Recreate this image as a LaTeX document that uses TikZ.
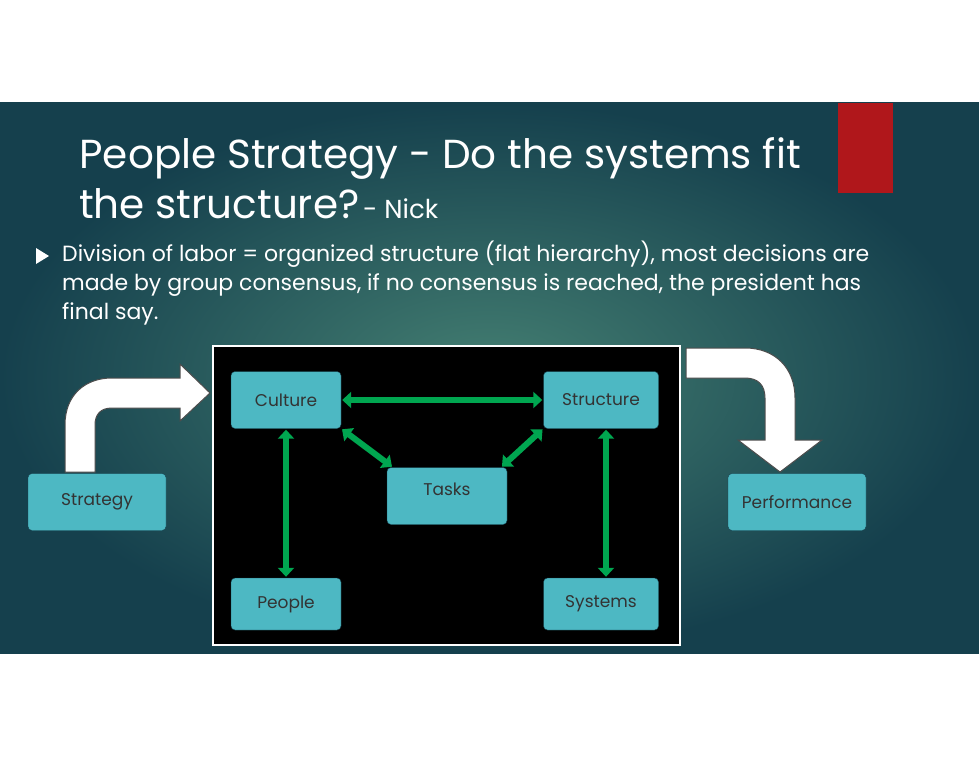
\documentclass[tikz,border=0pt]{standalone}
\usepackage{fontspec}
\setmainfont{Poppins}
\usetikzlibrary{arrows.meta}
\definecolor{boxteal}{HTML}{4DB8C3}
\definecolor{linkgreen}{HTML}{00A650}
\definecolor{slidedark}{HTML}{15404D}
\definecolor{slidelight}{HTML}{447F72}
\definecolor{flagred}{HTML}{B0171B}
\tikzset{
  block/.style={draw=slidedark, fill=boxteal, rounded corners=4pt, minimum height=57pt,
    font=\fontsize{17}{20}\selectfont, text=black!80},
  link/.style={draw=linkgreen, line width=6pt, {Triangle[length=9pt,width=16pt]}-{Triangle[length=9pt,width=16pt]}, shorten <=1pt, shorten >=1pt},
  bigarrow/.style={fill=white, draw=black!70, line width=1pt}
}
\begin{document}
\begin{tikzpicture}[x=1pt,y=-1pt]
  \useasboundingbox (0,0) rectangle (979,757);
  \fill[white] (0,0) rectangle (979,757);
  \shade[inner color=slidelight, outer color=slidedark] (0,103) rectangle (979,653);
  \fill[flagred] (838,103) rectangle (893,193);
  % title
  \node[anchor=base west, text=white, font=\fontsize{40.5}{48}\selectfont] (title1) at (76,168) {People Strategy - Do the systems fit};
  \node[anchor=base west, text=white, font=\fontsize{40.5}{48}\selectfont, inner sep=0pt] (title2) at (79,218) {the structure?};
  \node[anchor=base west, text=white, font=\fontsize{26}{30}\selectfont] (nick) at (title2.base east) {- Nick};
  % bullet
  \fill[white] (36,248) -- (49,256) -- (36,264) -- cycle;
  \node[anchor=north west, text=white, align=left, inner sep=0pt, font=\fontsize{22}{29}\selectfont] (body) at (62,241)
    {Division of labor = organized structure (flat hierarchy), most decisions are\\
     made by group consensus, if no consensus is reached, the president has\\
     final say.};
  % black panel
  \draw[white, fill=black, line width=1.5pt] (213,346) rectangle (680,645);
  % blocks
  \node[block, minimum width=110pt] (culture) at (286,400) {Culture};
  \node[block, minimum width=115pt] (structure) at (601,400) {Structure};
  \node[block, minimum width=120pt, text depth=14pt] (tasks) at (447,496) {Tasks};
  \node[block, minimum width=110pt, minimum height=52pt] (people) at (286,604) {People};
  \node[block, minimum width=115pt, minimum height=52pt] (systems) at (601,604) {Systems};
  \node[block, minimum width=138pt] (strategy) at (97,502) {Strategy};
  \node[block, minimum width=138pt] (performance) at (797,502) {Performance};
  % links
  \draw[link] (culture) -- (structure);
  \draw[link] (culture.south east) -- ([xshift=6pt]tasks.north west);
  \draw[link] ([xshift=-6pt]tasks.north east) -- (structure.south west);
  \draw[link] (culture) -- (people);
  \draw[link] ([xshift=5pt]structure.south) -- ([xshift=5pt]systems.north);
  % big arrows
  \draw[bigarrow] (65,472) -- (65,425) .. controls (65,395) and (85,378) .. (112,378) -- (180,378)
    -- (180,364) -- (210,393) -- (180,421) -- (180,408) -- (112,408)
    .. controls (100,408) and (95,415) .. (95,425) -- (95,472) -- cycle;
  \draw[bigarrow] (686,348) -- (745,348) .. controls (775,348) and (795,368) .. (795,398) -- (795,440)
    -- (822,440) -- (780,472) -- (738,440) -- (765,440) -- (765,398)
    .. controls (765,385) and (758,378) .. (745,378) -- (686,378) -- cycle;
\end{tikzpicture}
\end{document}
